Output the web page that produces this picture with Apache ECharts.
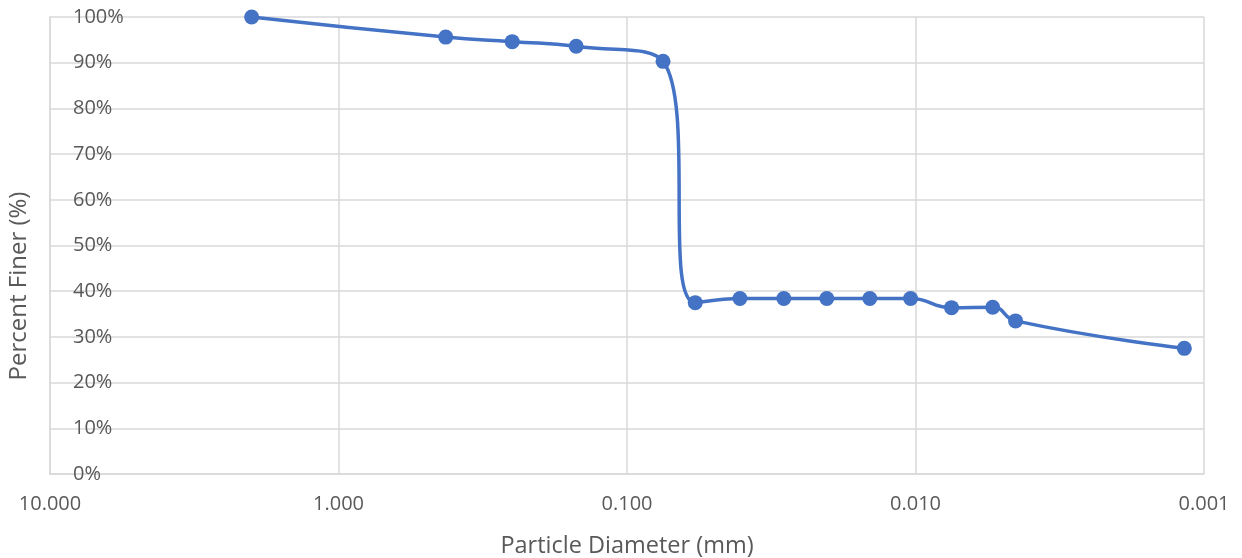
<!DOCTYPE html>
<html>
<head>
<meta charset="utf-8">
<script src="https://cdn.jsdelivr.net/npm/echarts@6/dist/echarts.min.js"></script>
<style>
html,body{margin:0;padding:0;background:#fff;}
#chart{width:1242px;height:558px;}
</style>
</head>
<body>
<div id="chart"></div>
<script>
// Particle diameters (mm) and percent finer (%)
const diameters = [2.0, 0.425, 0.25, 0.15, 0.075, 0.058, 0.0406, 0.0286, 0.0203, 0.0144, 0.0104, 0.0075, 0.0054, 0.0045, 0.00117];
const percentFiner = [100, 95.6, 94.6, 93.6, 90.3, 37.5, 38.4, 38.4, 38.4, 38.4, 38.4, 36.4, 36.5, 33.5, 27.5];
const yTicks = [0, 10, 20, 30, 40, 50, 60, 70, 80, 90, 100];
const xTitle = 'Particle Diameter (mm)';
const yTitle = 'Percent Finer (%)';

const data = diameters.map((d, i) => [d, percentFiner[i]]);
const font = '"Open Sans", Lato, sans-serif';
const gray = '#595959';

const chart = echarts.init(document.getElementById('chart'), null, {renderer: 'canvas'});
chart.setOption({
  animation: false,
  backgroundColor: '#fff',
  grid: {left: 50, right: 38, top: 17, bottom: 84, containLabel: false, outerBoundsMode: 'none'},
  graphic: [{
    type: 'text',
    x: 19,
    y: 286,
    rotation: Math.PI / 2,
    style: {text: yTitle, fill: gray, fontSize: 24, fontFamily: font,
      align: 'center', verticalAlign: 'middle'}
  }],
  xAxis: {
    type: 'log',
    logBase: 10,
    inverse: true,
    min: 0.001,
    max: 10,
    interval: 1,
    name: xTitle,
    nameLocation: 'middle',
    nameGap: 60,
    nameTextStyle: {color: gray, fontSize: 23.5, fontFamily: font},
    axisLine: {show: true, lineStyle: {color: '#d9d9d9', width: 1.5}},
    axisTick: {show: false},
    axisLabel: {color: gray, fontSize: 20, fontFamily: font, margin: 20,
      formatter: v => Number(v).toFixed(3)},
    splitLine: {show: true, lineStyle: {color: '#d9d9d9', width: 1.5}},
    minorTick: {show: false},
    minorSplitLine: {show: false}
  },
  yAxis: {
    type: 'value',
    min: 0,
    max: 100,
    interval: 10,
    axisLine: {show: true, lineStyle: {color: '#d9d9d9', width: 1.5}},
    axisTick: {show: false},
    axisLabel: {inside: true, margin: 23, color: gray, fontSize: 20, fontFamily: font,
      formatter: v => v + '%'},
    splitLine: {show: true, lineStyle: {color: '#d9d9d9', width: 1.5}}
  },
  series: [{
    type: 'line',
    data: data,
    smooth: true,
    symbol: 'circle',
    symbolSize: 15,
    lineStyle: {color: '#4472C4', width: 3.5},
    itemStyle: {color: '#4472C4'},
    clip: false,
    z: 5
  }]
});
</script>
</body>
</html>
